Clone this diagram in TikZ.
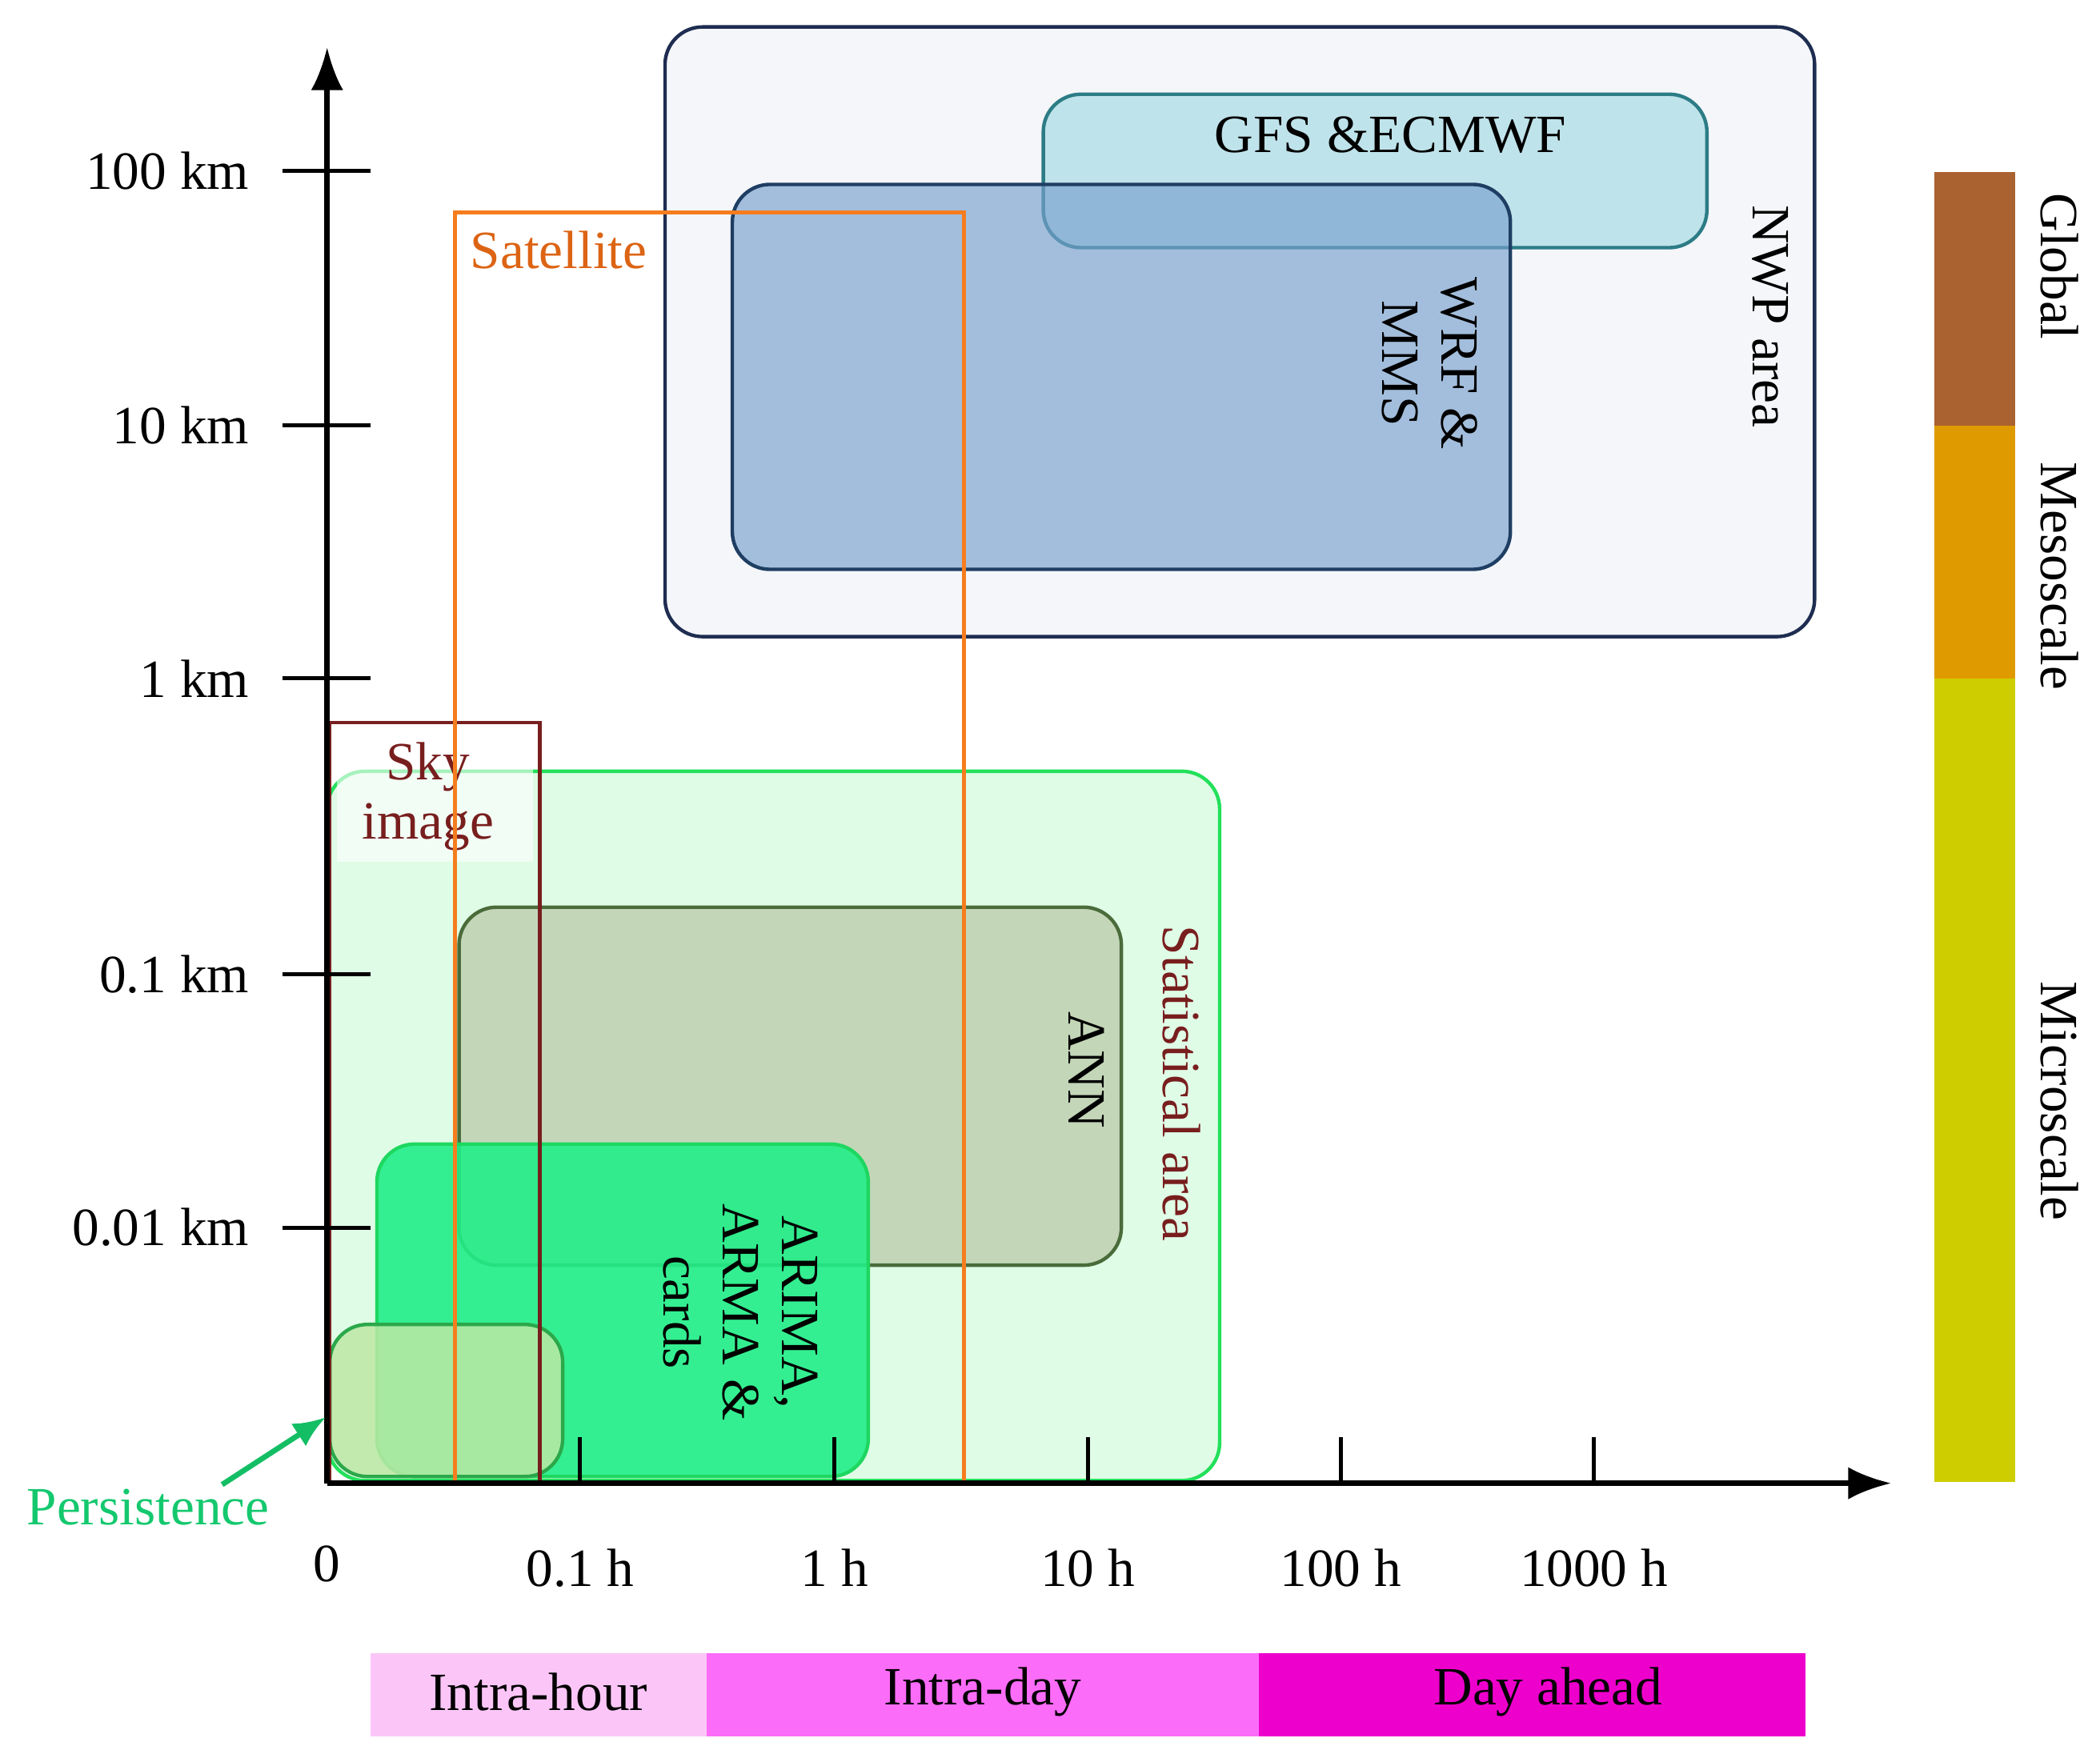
\documentclass[tikz,border=0pt]{standalone}
\usepackage{fontspec}
\setmainfont{Liberation Serif}
\usetikzlibrary{arrows.meta}
\definecolor{cglob}{RGB}{169,98,48}
\definecolor{cmeso}{RGB}{223,154,0}
\definecolor{cmicro}{RGB}{205,205,0}
\definecolor{cih}{RGB}{251,198,247}
\definecolor{cid}{RGB}{251,108,248}
\definecolor{cda}{RGB}{238,0,204}
\begin{document}
\begin{tikzpicture}[x=0.5pt,y=-0.5pt,
  txt/.style={font=\fontsize{20}{22}\selectfont},
  box/.style={rounded corners=14pt,line width=1.3pt},
  tick/.style={line width=1.5pt}]
\useasboundingbox (0,0) rectangle (1560,1303);
% NWP
\draw[box,fill={rgb,255:red,244;green,246;blue,250},draw={rgb,255:red,30;green,45;blue,80}] (494,20) rectangle (1348,473);
\node[txt,rotate=-90] (nwp) at (1315,235) {NWP area};
\draw[box,fill={rgb,255:red,191;green,227;blue,234},draw={rgb,255:red,44;green,124;blue,134}] (775,70) rectangle (1268,184);
\node[txt] (gfs) at (1033,100) {GFS \&ECMWF};
\draw[box,fill={rgb,255:red,120;green,160;blue,205},fill opacity=0.65,draw={rgb,255:red,31;green,62;blue,99}] (544,137) rectangle (1122,423);
\node[txt,rotate=-90,align=center] (wrf) at (1062,270) {WRF \&\\MMS};
% statistical
\draw[box,fill={rgb,255:red,223;green,252;blue,230},draw={rgb,255:red,34;green,224;blue,90}] (243,573) rectangle (906,1100);
\node[txt,rotate=-90,text={rgb,255:red,120;green,30;blue,30}] (stat) at (878,805) {Statistical area};
\draw[box,fill={rgb,255:red,195;green,214;blue,184},draw={rgb,255:red,74;green,107;blue,58}] (341,674) rectangle (833,940);
\node[txt,rotate=-90] (ann) at (807,795) {ANN};
\draw[box,fill={rgb,255:red,34;green,238;blue,136},fill opacity=0.9,draw={rgb,255:red,30;green,215;blue,96}] (280,850) rectangle (645,1097);
\node[txt,rotate=-90,align=center] (arima) at (550,975) {ARIMA,\\ARMA \&\\cards};
\draw[box,fill={rgb,255:red,189;green,232;blue,166},fill opacity=0.85,draw={rgb,255:red,43;green,168;blue,74}] (245,984) rectangle (418,1097);
% sky image
\fill[white,opacity=0.6] (250,545) rectangle (396,640);
\draw[line width=1.3pt,draw={rgb,255:red,120;green,30;blue,30}] (245,1102) -- (245,537) -- (401,537) -- (401,1102);
\node[txt,align=center,text={rgb,255:red,120;green,30;blue,30},inner sep=0pt] (sky) at (318,592) {Sky\\image};
% satellite
\draw[line width=1.5pt,draw={rgb,255:red,245;green,125;blue,30}] (338,1102) -- (338,158) -- (716,158) -- (716,1102);
\node[txt,text={rgb,255:red,220;green,100;blue,20}] (sat) at (415,186) {Satellite};
% axes
\coordinate (o) at (243,1102);
\coordinate (ytop) at (243,35);
\coordinate (xend) at (1405,1102);
\draw[line width=2pt,-{Latex[length=16pt,width=12pt]}] (o) -- (ytop);
\draw[line width=2pt,-{Latex[length=16pt,width=12pt]}] (o) -- (xend);
\foreach \y/\l in {127/100 km,316/10 km,504/1 km,724/0.1 km,912/0.01 km}{
  \draw[tick] (210,\y) -- (275,\y);
  \node[txt,anchor=east] at (192,\y) {\l};}
\node[txt] at (243,1162) {0};
\foreach \x/\l in {431/0.1 h,620/1 h,808/10 h,996/100 h,1184/1000 h}{
  \draw[tick] (\x,1068) -- (\x,1102);
  \node[txt] at (\x,1165) {\l};}
% persistence
\coordinate (pa) at (165,1103);
\coordinate (pb) at (242,1053);
\draw[line width=2pt,draw={rgb,255:red,20;green,190;blue,100},-{Latex[length=12pt,width=10pt]}] (pa) -- (pb);
\node[txt,text={rgb,255:red,20;green,200;blue,110}] (pers) at (110,1120) {Persistence};
% right bar
\fill[cglob] (1437,128) rectangle (1497,316);
\fill[cmeso] (1437,316) rectangle (1497,504);
\fill[cmicro] (1437,504) rectangle (1497,1101);
\node[txt,rotate=-90] (glob) at (1530,198) {Global};
\node[txt,rotate=-90] (meso) at (1530,428) {Mesoscale};
\node[txt,rotate=-90] (micro) at (1530,818) {Microscale};
% bottom bar
\fill[cih] (275,1228) rectangle (525,1290);
\fill[cid] (525,1228) rectangle (935,1290);
\fill[cda] (935,1228) rectangle (1341,1290);
\node[txt] (ih) at (400,1257) {Intra-hour};
\node[txt] (id) at (730,1257) {Intra-day};
\node[txt] (da) at (1150,1257) {Day ahead};
\end{tikzpicture}
\end{document}
